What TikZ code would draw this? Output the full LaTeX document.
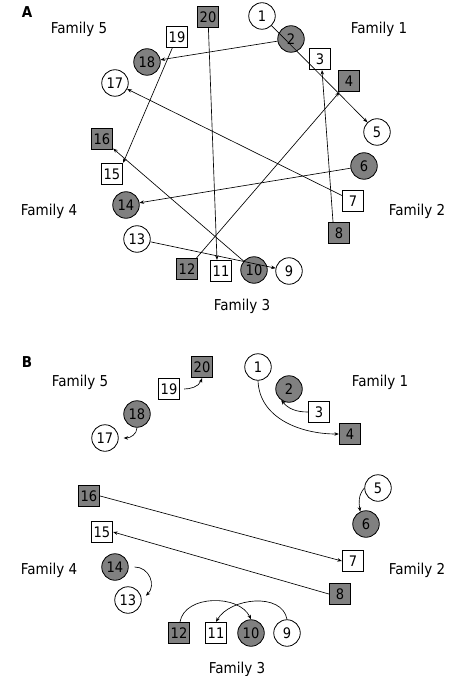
\documentclass[tikz,border=0pt]{standalone}
\usepackage{fontspec}
\setmainfont{DejaVu Sans}[FakeStretch=0.9]
\usetikzlibrary{arrows.meta}
\definecolor{nodegray}{RGB}{128,128,128}
\begin{document}
\begin{tikzpicture}[x=1pt,y=-1pt,
  sq/.style={draw,rectangle,minimum size=21.5pt,inner sep=0pt,line width=0.8pt,font=\fontsize{14.5}{16}\selectfont},
  ci/.style={draw,circle,minimum size=26.5pt,inner sep=0pt,line width=0.8pt,font=\fontsize{14.5}{16}\selectfont},
  wh/.style={fill=white},
  gr/.style={fill=nodegray},
  fam/.style={font=\fontsize{15}{17}\selectfont},
  lab/.style={font=\bfseries\fontsize{15}{18}\selectfont},
  arr/.style={-{Stealth[length=4.5pt,width=3.5pt]},line width=0.65pt},
]
\useasboundingbox (0,0) rectangle (448,676);
\fill[white] (0,0) rectangle (448,676);

% ---------------- Panel A ----------------
\node[lab] (labA) at (27,12) {A};
\node[fam] (fa5) at (79,29) {Family 5};
\node[fam] (fa1) at (379,29) {Family 1};
\node[fam] (fa4) at (49,211) {Family 4};
\node[fam] (fa2) at (417,211) {Family 2};
\node[fam] (fa3) at (242,306) {Family 3};

\node[ci,wh] (a1) at (262,16) {1};
\node[ci,gr] (a2) at (291,39) {2};
\node[sq,wh] (a3) at (320,59) {3};
\node[sq,gr] (a4) at (349,81) {4};
\node[ci,wh] (a5) at (377,132) {5};
\node[ci,gr] (a6) at (364,166) {6};
\node[sq,wh] (a7) at (353,201) {7};
\node[sq,gr] (a8) at (339,233) {8};
\node[ci,wh] (a9) at (289,271) {9};
\node[ci,gr] (a10) at (254,270) {10};
\node[sq,wh] (a11) at (221,271) {11};
\node[sq,gr] (a12) at (187,269) {12};
\node[ci,wh] (a13) at (137,239) {13};
\node[ci,gr] (a14) at (126,205) {14};
\node[sq,wh] (a15) at (112,174) {15};
\node[sq,gr] (a16) at (102,139) {16};
\node[ci,wh] (a17) at (115,83) {17};
\node[ci,gr] (a18) at (147,62) {18};
\node[sq,wh] (a19) at (177,37) {19};
\node[sq,gr] (a20) at (208,17) {20};

\draw[arr] (a1) -- (a5);
\draw[arr] (a2) -- (a18);
\draw[arr] (a19) -- (a15.north east);
\draw[arr] (a20) -- ([xshift=-4pt]a11.north);
\draw[arr] ([xshift=-6pt]a8.north) -- ([xshift=2pt]a3.south);
\draw[arr] (a12) -- (a4);
\draw[arr] (a7) -- (a17);
\draw[arr] (a10) -- (a16);
\draw[arr] (a6) -- (a14);
\draw[arr] (a13) -- (a9);

% ---------------- Panel B ----------------
\node[lab] (labB) at (27,362) {B};
\node[fam] (fb5) at (80,382) {Family 5};
\node[fam] (fb1) at (380,382) {Family 1};
\node[fam] (fb4) at (49,570) {Family 4};
\node[fam] (fb2) at (417,570) {Family 2};
\node[fam] (fb3) at (237,669) {Family 3};

\node[ci,wh] (b1) at (258,367) {1};
\node[ci,gr] (b2) at (289,389) {2};
\node[sq,wh] (b3) at (319,412) {3};
\node[sq,gr] (b4) at (350,434) {4};
\node[ci,wh] (b5) at (378,488) {5};
\node[ci,gr] (b6) at (366,524) {6};
\node[sq,wh] (b7) at (353,561) {7};
\node[sq,gr] (b8) at (340,594) {8};
\node[ci,wh] (b9) at (287,633) {9};
\node[ci,gr] (b10) at (251,633) {10};
\node[sq,wh] (b11) at (216,633) {11};
\node[sq,gr] (b12) at (179,633) {12};
\node[ci,wh] (b13) at (128,600) {13};
\node[ci,gr] (b14) at (115,567) {14};
\node[sq,wh] (b15) at (102,532) {15};
\node[sq,gr] (b16) at (89,496) {16};
\node[ci,wh] (b17) at (105,438) {17};
\node[ci,gr] (b18) at (137,414) {18};
\node[sq,wh] (b19) at (169,389) {19};
\node[sq,gr] (b20) at (202,367) {20};

\draw[arr,shorten <=4pt] (b19.east) to[out=0,in=-110] (b20.south);
\draw[arr] (b18.south) to[out=-90,in=0] ([xshift=5pt]b17.east);
\draw[arr] (b1.south) to[out=-88,in=180] (b4.west);
\draw[arr] (b3.west) to[out=180,in=-50] (b2.-125);
\draw[arr] (b5.west) to[out=-130,in=100] (b6.115);
\draw[arr] (b16.east) -- (b7.west);
\draw[arr] (b8.west) -- (b15.east);
\draw[arr,shorten <=6pt,shorten >=6pt] (b14.east) to[out=0,in=45,looseness=1.5] (b13.east);
\draw[arr] ([xshift=1pt]b12.north) to[out=80,in=115] (b10.north);
\draw[arr] (b9.north) to[out=100,in=60] (b11.north);
\end{tikzpicture}
\end{document}
